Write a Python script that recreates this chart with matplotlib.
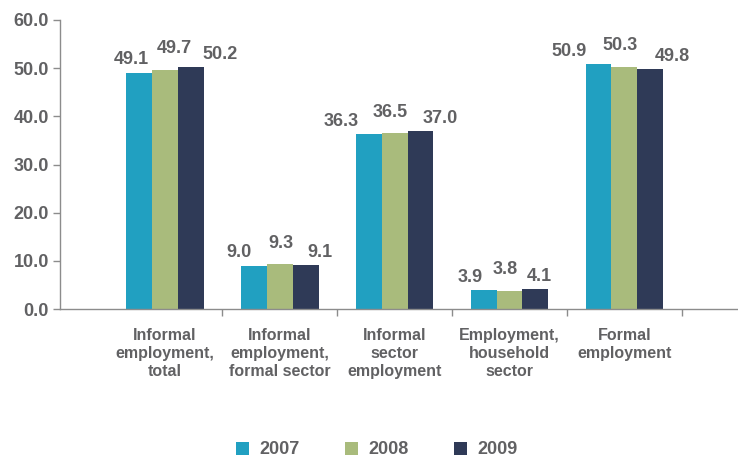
import numpy as np
import matplotlib
matplotlib.use("Agg")
import matplotlib.pyplot as plt
from matplotlib.transforms import offset_copy

# employment shares (%) by category and year
categories = [
    "Informal\nemployment,\ntotal",
    "Informal\nemployment,\nformal sector",
    "Informal\nsector\nemployment",
    "Employment,\nhousehold\nsector",
    "Formal\nemployment",
]
years = ["2007", "2008", "2009"]
share_2007 = [49.1, 9.0, 36.3, 3.9, 50.9]
share_2008 = [49.7, 9.3, 36.5, 3.8, 50.3]
share_2009 = [50.2, 9.1, 37.0, 4.1, 49.8]
y_ticks = [0, 10, 20, 30, 40, 50, 60]

colors = ["#21a0c1", "#a9bb7c", "#2f3a57"]
grey = "#616163"
axis_grey = "#8c8c8c"
font = ["Liberation Sans", "DejaVu Sans"]

# horizontal nudges (points) for the value labels in each group
label_dx = [
    (-6, 7, 21),
    (-11, 1, 10),
    (-20, -3, 14),
    (-10, -3, 3),
    (-21, -3, 16),
]
label_dy = (3, 9, 3)

fig = plt.figure(figsize=(7.38, 4.59), dpi=100)
ax = fig.add_axes([60 / 738, 1 - 309 / 459, 1 - 60 / 738, (309 - 20) / 459])

x = np.arange(len(categories))
width = 0.225
series = [share_2007, share_2008, share_2009]
for i, (vals, col, yr) in enumerate(zip(series, colors, years)):
    pos = x + (i - 1) * width
    ax.bar(pos, vals, width, color=col, label=yr, linewidth=0)
    for j, (px, v) in enumerate(zip(pos, vals)):
        tr = offset_copy(ax.transData, fig=fig, x=label_dx[j][i], y=label_dy[i], units="points")
        ax.text(px, v, f"{v:.1f}", transform=tr, ha="center", va="bottom",
                fontsize=13, fontweight="bold", color=grey, family=font)

ax.set_xlim(-0.915, 4.99)
ax.set_ylim(0, 60)
ax.set_yticks(y_ticks)
ax.set_yticklabels([f"{t:.1f}" for t in y_ticks])

# boundary ticks between groups, category names under each group
ax.set_xticks(np.arange(0.5, len(categories), 1.0))
ax.set_xticklabels([])
ax.set_xticks(x, minor=True)
ax.set_xticklabels(categories, minor=True, fontsize=11.5, fontweight="bold", color=grey,
                   family=font, linespacing=1.25)
ax.tick_params(axis="x", which="major", direction="out", length=5, color=axis_grey, width=1)
ax.tick_params(axis="x", which="minor", length=0, pad=14)
ax.tick_params(axis="y", direction="out", length=5, color=axis_grey, width=1,
               labelsize=13, labelcolor=grey, pad=3)
for lbl in ax.get_yticklabels():
    lbl.set_fontweight("bold")
    lbl.set_family(font)

for s in ["top", "right"]:
    ax.spines[s].set_visible(False)
for s in ["left", "bottom"]:
    ax.spines[s].set_color(axis_grey)
    ax.spines[s].set_linewidth(1)

leg = fig.legend(loc="center", bbox_to_anchor=(377 / 738, 1 - 450 / 459), ncol=3,
                 frameon=False, handlelength=0.7, handleheight=0.7, handletextpad=0.6,
                 columnspacing=2.5, borderpad=0.2,
                 prop={"family": font, "weight": "bold", "size": 13})
for t in leg.get_texts():
    t.set_color(grey)

fig.savefig("out.png", dpi=100)
